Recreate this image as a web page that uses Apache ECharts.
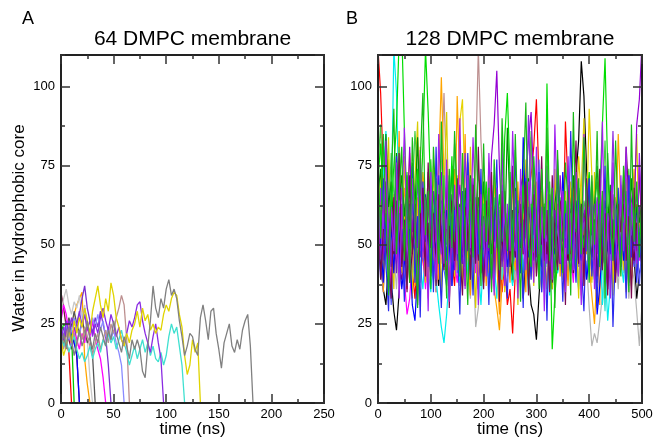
<!DOCTYPE html>
<html><head><meta charset="utf-8">
<script src="https://cdn.jsdelivr.net/npm/echarts@6/dist/echarts.min.js"></script>
<style>html,body{margin:0;padding:0;background:#fff}#c{width:654px;height:438px}</style>
</head><body><div id="c"></div>
<script>
// ---------------- Panel A: 64 DMPC (time step 2.5 ns) ----------------
const dtA = 2.5;
const aMaroon = [35, 30, 24, 20, 17, 21, 15, 0];
const aRed = [17, 21, 19, 16, 0];
const aGreen = [22, 25, 24, 26, 22, 0];
const aBlue = [17, 21, 25, 20, 23, 19, 15, 0];
const aOrange = [16, 19, 22, 25, 24, 28, 31, 33, 35, 14, 6, 0];
const aLightGray = [29, 33, 36, 31, 28, 32, 30, 34, 27, 31, 20, 8, 0];
const aDarkGray = [21, 18, 23, 27, 24, 29, 25, 22, 26, 23, 19, 21, 15, 0];
const aMagenta = [26, 31, 28, 22, 18, 24, 20, 17, 22, 19, 24, 21, 26, 20, 17, 14, 8, 0];
const aIndigo = [19, 24, 21, 26, 23, 20, 25, 28, 33, 37, 30, 26, 22, 27, 24, 29, 25, 21, 12, 0];
const aPeriwinkle = [18, 22, 25, 20, 23, 27, 24, 21, 26, 30, 25, 22, 27, 24, 28, 23, 26, 21, 24, 20, 23, 19, 16, 12, 0];
const aBrown = [20, 17, 21, 25, 19, 22, 18, 23, 20, 24, 21, 18, 15, 19, 22, 17, 20, 23, 19, 25, 22, 27, 30, 34, 31, 20, 0];
const aTurquoise = [22, 18, 20, 16, 19, 21, 17, 14, 16, 13, 15, 18, 14, 17, 19, 16, 20, 18, 22, 19,
  21, 17, 20, 23, 19, 16, 12, 15, 18, 14, 17, 20, 16, 19, 15, 18, 14, 13, 16, 12,
  15, 21, 25, 22, 24, 18, 12, 0];
const aViolet = [24, 20, 26, 22, 27, 23, 25, 29, 24, 28, 23, 26, 21, 25, 22, 27, 30, 26, 23, 28,
  25, 21, 24, 20, 18, 22, 26, 24, 27, 31, 32, 26, 22, 19, 16, 21, 25, 19, 14, 0];
const aYellow = [20, 15, 18, 23, 19, 26, 22, 27, 24, 30, 26, 22, 29, 33, 37, 31, 27, 33, 29, 38,
  34, 27, 24, 20, 18, 22, 19, 23, 25, 29, 24, 30, 26, 28, 23, 25, 22, 24, 23, 28,
  31, 29, 33, 35, 34, 28, 24, 15, 9, 12, 20, 16, 19, 0];
const aGray = [18, 22, 17, 24, 20, 15, 19, 23, 18, 21, 26, 20, 17, 22, 19, 24, 21, 18, 23, 20,
  26, 22, 19, 16, 21, 18, 14, 20, 17, 20, 17, 10, 8, 18, 26, 37, 30, 27, 33, 30,
  36, 39, 34, 36, 33, 26, 21, 15, 18, 22, 21, 17, 15, 27, 31, 26, 20, 29, 30, 22,
  17, 11, 19, 22, 25, 18, 16, 20, 17, 23, 26, 28, 18, 0];

const seriesA = [aMaroon, aRed, aGreen, aBlue, aOrange, aLightGray, aDarkGray, aMagenta, aIndigo,
  aPeriwinkle, aBrown, aTurquoise, aViolet, aYellow, aGray];
const colorsA = ['#7a1040', '#ff0000', '#00c800', '#0000ff', '#ffa500', '#c8c8c8', '#555555', '#ff00ff',
  '#7b2fd0', '#8a8aff', '#bc8f8f', '#40e0d0', '#8a2be2', '#e0d400', '#808080'];

// ---------------- Panel B: 128 DMPC (time step 5 ns) ----------------
const dtB = 5;
const bBlack = [58,44,36,31,45,39,29,23,35,48, 52,41,57,63,49,38,54,66,47,42, 55,61,48,37,52,45,59,70,51,43,
  47,56,39,62,53,44,58,49,36,51, 64,55,42,48,37,59,46,53,41,57, 50,38,45,61,54,33,47,42,31,28,
  20,34,46,39,55,48,36,52,44,58, 62,51,45,68,57,72,83,108,97,74, 60,53,47,39,55,49,43,61,56,46,
  52,40,48,57,44,38,50,46,33,41, 45];
const bRed = [112,98,74,61,52,66,48,57,43,39, 47,36,54,42,33,49,58,45,38,51, 44,56,35,47,62,53,41,58,46,37,
  55,49,63,44,52,40,57,48,61,45, 38,53,47,59,42,56,49,35,44,31, 36,22,41,54,47,60,52,65,72,81,
  96,70,55,48,61,44,57,50,63,53, 46,89,68,51,43,56,62,49,40,54, 47,58,52,38,45,60,51,43,55,48,
  61,54,42,49,57,46,39,52,63,50, 44];
const bGreen = [70,82,64,57,49,61,75,88,115,118, 86,62,55,68,52,74,60,81,112,92, 66,53,71,58,63,47,69,56,78,51,
  60,44,67,52,73,59,48,65,55,42, 57,70,49,62,38,55,66,51,84,98, 72,54,61,45,58,69,53,40,63,48,
  56,42,50,36,101,58,17,34,45,58, 52,64,47,60,55,41,68,57,49,62, 73,54,46,59,66,88,109,74,56,48,
  61,53,44,58,67,50,57,63,45,52, 59];
const bBlue = [45,52,38,60,47,55,41,63,50,36, 44,58,49,31,26,42,57,48,66,53, 40,59,46,72,55,43,61,50,37,48,
  65,52,44,57,76,49,62,45,56,41, 53,60,47,39,54,68,51,45,58,43, 49,56,62,48,41,84,57,46,53,65,
  58,49,43,55,61,38,52,47,59,44, 73,56,48,41,57,64,50,45,53,39, 46,60,52,28,37,49,55,62,47,58,
  41,53,66,45,51,38,57,49,62,54, 48];
const bYellow = [62,55,48,67,53,59,44,71,58,50, 63,47,56,69,52,61,74,57,49,65, 54,60,45,58,66,51,43,62,56,70,
  53,89,96,64,57,48,61,52,46,59, 55,63,49,41,57,66,52,60,47,54, 62,50,45,58,65,53,47,60,55,42,
  51,59,46,63,54,48,57,44,61,52, 58,67,53,49,60,56,78,64,50,57, 93,72,55,48,61,52,45,59,54,63,
  50,57,46,62,55,49,44,58,53,47, 56];
const bBrown = [48,56,63,51,44,58,66,53,47,60, 55,42,59,72,61,50,57,46,64,52, 58,49,67,60,74,98,69,56,45,62,
  53,47,58,66,51,60,44,76,112,83, 64,52,57,43,59,50,62,48,55,41, 54,61,47,56,63,50,45,58,52,60,
  46,55,49,62,53,44,59,51,57,48, 63,56,50,45,58,61,53,47,55,49, 60,52,46,57,64,51,43,56,62,50,
  54,47,59,53,45,61,55,48,57,51, 46];
const bGray = [42,50,37,46,55,41,48,36,52,44, 39,51,45,57,43,49,38,54,47,40, 53,46,35,50,44,56,42,48,39,52,
  45,37,49,54,41,33,47,24,30,43, 51,46,38,55,42,49,36,53,47,40, 44,52,39,48,57,43,50,37,46,54,
  41,49,35,47,53,44,38,51,45,56, 42,48,39,54,46,40,52,43,37,45, 30,18,22,19,26,34,45,38,50,42,
  47,36,53,41,48,33,44,39,29,18, 31];
const bViolet = [52,61,47,68,55,43,59,72,50,63, 46,57,81,54,64,49,70,58,44,62, 55,67,51,60,73,48,56,65,53,42,
  59,69,54,47,63,58,71,50,57,66, 52,61,48,78,88,105,74,56,63,51, 59,45,67,54,62,49,71,83,92,68,
  56,63,50,58,44,66,53,61,47,72, 57,49,64,55,60,46,68,52,59,65, 51,58,63,47,70,54,61,48,56,66,
  53,60,49,67,57,72,64,58,88,96, 114];
const bCyan = [55,63,72,86,64,58,112,98,61,47, 52,40,56,45,38,51,44,36,49,42, 35,47,39,31,24,19,28,41,53,46,
  50,38,44,57,42,36,49,55,43,31, 47,52,40,58,45,33,51,39,46,54, 42,37,49,44,56,41,50,35,47,53,
  43,58,46,39,52,34,48,55,41,45, 50,38,44,57,47,42,36,51,45,40, 53,46,39,48,55,31,44,26,37,49,
  42,51,45,38,54,47,41,56,43,50, 46];
const bMagenta = [47,54,41,60,49,37,55,44,62,51, 39,28,33,46,53,42,57,48,36,50, 44,58,51,40,47,55,43,61,52,45,
  38,49,56,44,60,47,53,41,58,50, 43,55,48,36,51,62,46,54,40,57, 49,44,59,38,52,47,56,63,84,61,
  53,45,50,42,57,48,39,55,46,52, 60,44,51,47,38,54,49,58,43,56, 48,41,53,46,59,50,44,37,52,47,
  55,49,42,58,46,51,39,53,60,45, 52];
const bOrange = [63,55,71,48,60,52,66,57,45,59, 68,54,79,61,50,65,56,73,62,49, 58,66,52,75,103,71,57,64,53,48,
  97,69,55,61,46,58,52,43,50,56, 47,53,41,49,36,30,23,38,51,45, 54,48,42,57,50,63,46,55,40,52,
  49,58,44,53,61,47,56,51,43,60, 54,48,57,62,50,45,59,53,47,56, 44,34,25,42,55,48,60,52,46,57,
  51,85,62,49,56,43,58,74,50,61, 54];
const bIndigo = [50,58,45,53,62,47,55,41,60,52, 57,44,63,51,48,59,46,54,65,50, 43,56,61,49,53,45,58,52,66,47,
  55,50,44,60,48,57,63,51,46,58, 52,45,59,67,54,49,56,43,61,50, 57,53,46,64,51,58,44,62,55,69,
  48,56,52,45,60,53,49,58,43,57, 51,63,55,47,59,52,44,56,61,48, 54,46,58,43,50,62,55,49,57,45,
  60,52,47,56,63,50,58,44,55,62, 49];
const bMaroon = [46,55,61,50,42,58,47,64,53,44, 51,59,38,48,56,43,62,50,45,57, 41,53,47,60,49,55,39,52,64,46,
  58,43,51,37,56,48,62,54,45,50, 59,47,53,41,57,63,48,52,44,58, 50,61,46,55,68,72,57,49,53,45,
  56,42,51,60,47,54,38,57,52,44, 49,58,45,53,41,59,50,63,47,55, 52,46,58,40,51,57,44,49,62,53,
  47,56,43,60,81,64,51,45,57,50, 43];
const bTurquoise = [44,51,58,46,39,54,48,61,43,56, 49,37,52,45,59,41,55,47,63,50, 42,57,48,53,38,46,60,44,51,56,
  47,54,40,58,45,52,36,49,43,55, 50,41,57,46,53,62,48,39,55,44, 58,47,53,40,49,56,43,51,45,60,
  52,46,38,54,43,57,49,44,55,48, 41,53,47,59,45,50,37,56,42,52, 46,54,40,57,48,43,29,51,45,58,
  49,42,55,47,53,40,56,44,50,46, 53];
const bGreen4 = [66,74,58,85,62,70,55,79,64,72, 59,68,53,76,61,84,57,66,51,73, 62,55,70,48,64,58,67,52,75,60,
  54,63,49,68,57,72,61,50,65,56, 70,53,62,47,59,66,55,63,51,87, 61,54,68,58,49,64,57,71,52,60,
  55,66,48,62,53,59,45,63,70,56, 61,50,67,58,72,54,64,49,60,57, 68,53,62,75,58,51,64,57,69,52,
  60,66,55,63,49,58,71,54,62,57, 65];
const bLime = [75,88,62,70,58,79,66,54,81,67, 60,73,57,65,86,71,59,68,55,63, 77,61,54,69,58,72,50,64,57,82,
  66,59,73,55,62,51,68,60,74,57, 63,52,70,58,65,49,61,56,67,53, 60,71,55,64,50,62,57,68,86,54,
  59,66,51,63,57,70,54,61,48,65, 58,53,67,60,55,72,62,51,64,59, 66,57,63,70,54,61,83,58,65,52,
  62,56,69,53,60,74,58,64,51,71, 60];
const bBlueViolet = [53,46,60,51,57,44,62,49,55,68, 50,58,45,63,54,71,48,59,52,66, 57,49,64,53,47,60,55,68,50,58,
  45,62,54,79,59,48,65,52,61,55, 49,66,53,58,46,61,54,69,57,50, 63,55,48,60,52,67,58,91,64,53,
  59,47,62,55,51,64,57,49,60,54, 66,52,58,45,61,55,63,50,57,48, 62,56,51,65,53,59,46,60,54,86,
  57,50,63,55,48,61,53,59,66,52, 58];
const bSlate = [40,48,35,52,44,31,47,55,42,50, 38,45,53,41,49,36,54,46,43,57, 48,39,51,44,56,42,37,50,45,53,
  41,47,58,43,52,39,49,55,44,46, 50,42,56,47,38,53,45,51,40,48, 55,43,49,52,41,57,46,39,54,48,
  51,77,44,40,56,47,53,42,49,58, 45,50,39,55,47,52,43,57,48,41, 53,46,50,38,55,44,49,36,52,47,
  42,58,45,51,39,54,48,43,56,37, 50];
const bGreen2 = [78,52,85,61,34,70,93,47,66,81, 45,72,38,84,59,30,76,98,53,67, 36,81,62,44,89,57,33,74,49,86,
  64,40,79,55,31,71,46,88,60,37, 82,51,68,35,77,58,42,90,63,48, 73,39,85,56,32,69,95,50,43,78,
  61,36,74,52,87,45,68,30,80,57, 41,76,63,34,92,54,71,47,84,59, 38,72,50,86,43,67,33,79,58,45,
  83,56,40,75,62,35,88,51,70,46, 66];
const bPurple2 = [41,68,55,83,37,62,48,76,33,59, 87,50,42,71,58,35,80,46,64,29, 73,52,39,85,61,44,77,32,56,69,
  47,90,53,36,72,49,84,60,31,66, 54,40,79,57,34,68,45,82,37,63, 48,86,59,33,74,51,42,70,56,38,
  81,47,62,29,75,53,39,88,58,44, 67,35,78,50,42,73,56,31,85,60, 46,70,36,64,52,89,43,58,33,76,
  55,40,72,48,81,37,63,52,44,79, 57];
const bBlue2 = [36,57,71,44,29,62,50,78,41,55, 32,66,48,75,38,59,27,70,53,43, 64,35,81,49,30,58,45,72,37,61,
  52,28,67,43,79,56,34,63,47,74, 40,58,31,69,51,77,38,60,44,33, 66,49,80,42,57,30,71,53,39,62,
  46,73,35,58,26,64,50,41,77,55, 32,60,47,86,53,38,67,44,29,58, 71,40,55,30,63,48,75,36,61,24,
  50,68,43,57,33,72,46,60,38,54, 41];
const bMaroon2 = [62,39,54,70,46,33,65,51,79,43, 58,35,72,47,63,31,55,68,40,76, 49,60,37,66,53,42,74,30,59,45,
  71,48,34,62,56,39,69,44,81,52, 36,64,50,73,41,58,32,67,47,60, 43,75,55,38,63,47,70,34,57,66,
  40,53,78,45,61,35,72,50,42,64, 56,31,69,47,59,83,44,62,37,71, 49,65,39,57,74,42,60,34,67,51,
  38,63,54,72,45,59,33,68,48,75, 52];
const bYellow2 = [55,73,40,62,84,48,36,69,57,45, 78,52,64,33,71,89,47,60,38,66, 51,75,43,58,34,68,92,49,63,40,
  72,55,37,65,46,81,53,30,61,50, 67,42,76,54,39,62,48,71,35,58, 46,69,56,31,64,52,77,43,60,37,
  70,49,58,41,66,53,36,74,47,61, 39,63,52,70,44,57,33,68,90,55, 62,38,73,50,58,45,67,41,56,34,
  65,48,59,42,71,53,37,61,85,49, 57];
const bOrange2 = [49,64,35,58,77,43,60,52,86,41, 57,70,44,62,37,53,81,46,59,33, 68,45,60,39,71,50,63,36,57,74,
  42,61,52,85,47,34,66,55,40,69, 58,37,63,51,72,44,28,56,65,49, 38,61,53,70,42,58,35,64,48,73,
  55,43,67,50,36,62,46,59,71,40, 64,52,37,58,69,45,61,34,55,47, 72,39,56,62,31,67,50,44,60,38,
  53,66,45,58,35,62,49,70,41,56, 63];

const seriesB = [bBlack, bRed, bGray, bYellow, bCyan, bBrown, bOrange, bTurquoise, bMagenta, bSlate,
  bOrange2, bYellow2, bBlue, bIndigo, bLime, bGreen4, bViolet, bMaroon, bBlueViolet, bGreen,
  bBlue2, bMaroon2, bPurple2, bGreen2];
const colorsB = ['#000000', '#ff0000', '#b4b4b4', '#e6d200', '#00eeee', '#bc8f8f', '#ffa500', '#40e0d0',
  '#ff00ff', '#5a5aff', '#ff9a00', '#d8cc00', '#0000ff', '#7221bc', '#44cc44', '#008b00', '#9400d3', '#670748',
  '#8a2be2', '#00dd00', '#2a2aee', '#7a0a50', '#a020f0', '#18b818'];

// ---------------- Axis text ----------------
const titleA = '64 DMPC membrane';
const titleB = '128 DMPC membrane';
const xName = 'time (ns)';
const yName = 'Water in hydrobphobic core';

const FONT = "'Liberation Sans', Arial, Helvetica, sans-serif";
const frameColor = '#222';
const tickColor = '#333';

function xAxes(grid, max, interval) {
  const base = {
    gridIndex: grid, type: 'value', min: 0, max: max, interval: interval, z: 10,
    axisLine: { show: true, onZero: false, lineStyle: { color: frameColor, width: 2 } },
    axisTick: { show: true, inside: true, length: 9, lineStyle: { color: tickColor, width: 1.5 } },
    minorTick: { show: true, splitNumber: 2, length: 4, lineStyle: { color: tickColor, width: 1.5 } },
    splitLine: { show: false }, minorSplitLine: { show: false }
  };
  return [
    Object.assign({}, base, {
      position: 'bottom',
      axisLabel: { show: true, color: '#000', fontSize: 13, fontFamily: FONT, margin: 5 }
    }),
    Object.assign({}, base, { position: 'top', axisLabel: { show: false } })
  ];
}
function yMainAxes(grid) {
  const main = {
    gridIndex: grid, type: 'value', min: 0, max: 110, interval: 25, z: 10,
    axisLine: { show: true, onZero: false, lineStyle: { color: frameColor, width: 2 } },
    axisTick: { show: true, inside: true, length: 9, lineStyle: { color: tickColor, width: 1.5 } },
    splitLine: { show: false }
  };
  return [
    Object.assign({}, main, { position: 'left',
      axisLabel: { show: true, color: '#000', fontSize: 13, fontFamily: FONT, margin: 6, showMaxLabel: false,
        formatter: v => (v > 100 ? '' : String(v)) } }),
    Object.assign({}, main, { position: 'right', axisLabel: { show: false } })
  ];
}
function yMinorAxes(grid) {
  const minor = {
    gridIndex: grid, type: 'value', min: 0, max: 110, interval: 12.5, z: 10,
    axisLine: { show: false, onZero: false },
    axisTick: { show: true, inside: true, length: 4, lineStyle: { color: tickColor, width: 1.5 } },
    axisLabel: { show: false }, splitLine: { show: false }
  };
  return [Object.assign({}, minor, { position: 'left' }), Object.assign({}, minor, { position: 'right' })];
}
function hiddenX(grid, max) {
  return { gridIndex: grid, type: 'value', min: 0, max: max, show: false,
    axisLine: { show: false }, axisTick: { show: false }, axisLabel: { show: false }, splitLine: { show: false } };
}

function mkSeries(list, colors, dt, xIdx, yIdx, width) {
  return list.map((vals, k) => ({
    type: 'line', xAxisIndex: xIdx, yAxisIndex: yIdx, showSymbol: false, symbol: 'none',
    clip: true, silent: true, animation: false,
    lineStyle: { color: colors[k], width: width }, itemStyle: { color: colors[k] },
    data: vals.map((v, i) => [i * dt, v])
  }));
}

const titleStyle = { fontSize: 21, fontWeight: 'normal', color: '#000', fontFamily: FONT };
const letterStyle = { fontSize: 18, fontWeight: 'normal', color: '#000', fontFamily: FONT };
const gridBase = { top: 55, height: 348, containLabel: false, outerBoundsMode: 'none' };
const nameFont = "17px 'Liberation Sans', Arial, sans-serif";

const chart = echarts.init(document.getElementById('c'), null, { renderer: 'canvas' });
chart.setOption({
  animation: false,
  backgroundColor: '#fff',
  textStyle: { fontFamily: FONT },
  title: [
    { text: titleA, left: 192.5, top: 29, textAlign: 'center', padding: 0, textStyle: titleStyle },
    { text: titleB, left: 510, top: 29, textAlign: 'center', padding: 0, textStyle: titleStyle },
    { text: 'A', left: 22, top: 10, padding: 0, textStyle: letterStyle },
    { text: 'B', left: 346, top: 10, padding: 0, textStyle: letterStyle }
  ],
  grid: [
    Object.assign({ left: 61, width: 263 }, gridBase),
    Object.assign({ left: 378, width: 264 }, gridBase),
    Object.assign({ left: 61, width: 263 }, gridBase),
    Object.assign({ left: 378, width: 264 }, gridBase)
  ],
  // x: 0 A-bottom, 1 A-top, 2 B-bottom, 3 B-top, 4/5 hidden helpers for minor-tick grids
  xAxis: [].concat(xAxes(0, 250, 50), xAxes(1, 500, 100), [hiddenX(2, 250), hiddenX(3, 500)]),
  // y: 0/1 A left/right, 2/3 B left/right, 4/5 A minor, 6/7 B minor
  yAxis: [].concat(yMainAxes(0), yMainAxes(1), yMinorAxes(2), yMinorAxes(3)),
  graphic: [
    { type: 'text', x: 19, y: 228, rotation: Math.PI / 2, z: 100,
      style: { text: yName, fill: '#000', font: nameFont, textAlign: 'center', textVerticalAlign: 'middle' } },
    { type: 'text', x: 192.5, y: 429, z: 100,
      style: { text: xName, fill: '#000', font: nameFont, textAlign: 'center', textVerticalAlign: 'middle' } },
    { type: 'text', x: 510, y: 429, z: 100,
      style: { text: xName, fill: '#000', font: nameFont, textAlign: 'center', textVerticalAlign: 'middle' } }
  ],
  series: [].concat(
    mkSeries(seriesA, colorsA, dtA, 0, 0, 1.3),
    mkSeries(seriesB, colorsB, dtB, 2, 2, 1.2)
  )
});
</script>
</body></html>
